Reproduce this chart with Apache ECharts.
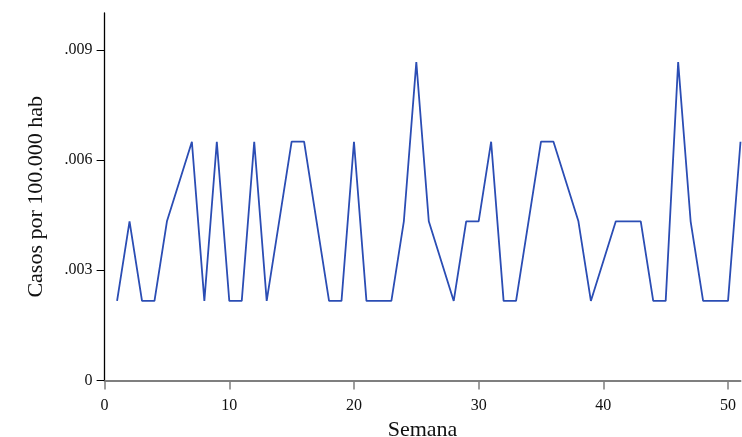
<!DOCTYPE html>
<html>
<head>
<meta charset="utf-8">
<script src="https://cdn.jsdelivr.net/npm/echarts@6/dist/echarts.min.js"></script>
<style>html,body{margin:0;padding:0;background:#fff}#c{width:742px;height:437px}</style>
</head>
<body>
<div id="c"></div>
<script>
// Weeks 1..51
const weeks = [1,2,3,4,5,6,7,8,9,10,11,12,13,14,15,16,17,18,19,20,21,22,23,24,25,26,27,28,29,30,31,32,33,34,35,36,37,38,39,40,41,42,43,44,45,46,47,48,49,50,51];
// Cases per 100.000 inhabitants (null = not reported, line joins neighbours)
const casos = [
  0.002166, 0.004332, 0.002166, 0.002166, 0.004332, null, 0.006498, 0.002166, 0.006498, 0.002166,
  0.002166, 0.006498, 0.002166, 0.004332, 0.006498, 0.006498, 0.004332, 0.002166, 0.002166, 0.006498,
  0.002166, 0.002166, 0.002166, 0.004332, 0.008664, 0.004332, null, 0.002166, 0.004332, 0.004332,
  0.006498, 0.002166, 0.002166, 0.004332, 0.006498, 0.006498, null, 0.004332, 0.002166, null,
  0.004332, 0.004332, 0.004332, 0.002166, 0.002166, 0.008664, 0.004332, 0.002166, 0.002166, 0.002166,
  0.006498
];
const yTicks = {0: '0', 0.003: '.003', 0.006: '.006', 0.009: '.009'};
const xTitle = 'Semana';
const yTitle = 'Casos por 100.000 hab';

const font = '"Liberation Serif", "DejaVu Serif", serif';
const chart = echarts.init(document.getElementById('c'), null, {renderer: 'canvas'});
chart.setOption({
  animation: false,
  backgroundColor: '#ffffff',
  grid: {left: 104.6, right: 1.5, top: 13, bottom: 56.5, containLabel: false, outerBoundsMode: 'none'},
  xAxis: {
    type: 'value', min: 0, max: 51, interval: 10,
    name: xTitle, nameLocation: 'middle', nameGap: 39,
    nameTextStyle: {fontFamily: font, fontSize: 22, color: '#111'},
    axisLine: {show: true, onZero: false, lineStyle: {color: '#7f7f7f', width: 2}},
    axisTick: {show: true, length: 9, lineStyle: {color: '#7f7f7f', width: 1.5}},
    axisLabel: {fontFamily: font, fontSize: 16, color: '#111', margin: 17,
      showMaxLabel: false, formatter: v => String(v)},
    splitLine: {show: false}
  },
  yAxis: {
    type: 'value', min: 0, max: 0.01, interval: 0.003,
    name: yTitle, nameLocation: 'middle', nameGap: 57, nameRotate: 90,
    nameTextStyle: {fontFamily: font, fontSize: 22, color: '#111'},
    axisLine: {show: true, lineStyle: {color: '#000', width: 1.3}},
    axisTick: {show: true, length: 8, lineStyle: {color: '#000', width: 1}},
    axisLabel: {fontFamily: font, fontSize: 16, color: '#111', margin: 12,
      showMaxLabel: false,
      formatter: v => { const k = Math.round(v * 1000) / 1000; return yTicks[k] !== undefined ? yTicks[k] : ''; }},
    splitLine: {show: false}
  },
  series: [{
    type: 'line',
    data: weeks.map((w, i) => [w, casos[i]]),
    connectNulls: true,
    showSymbol: false,
    symbol: 'none',
    lineStyle: {color: '#2b4db4', width: 1.8},
    z: 3
  }]
});
</script>
</body>
</html>
